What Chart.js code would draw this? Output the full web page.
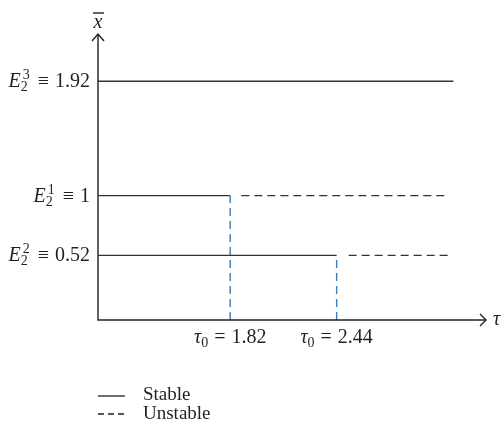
<!DOCTYPE html>
<html><head><meta charset="utf-8">
<script src="https://cdn.jsdelivr.net/npm/chart.js@4"></script>
<style>html,body{margin:0;padding:0;background:#fff}#wrap{width:503px;height:428px;position:relative}</style>
</head><body><div id="wrap"><canvas id="c"></canvas></div>
<script>
// Equilibrium values (y) and their labels E_2^k
const eqValues = [1.92, 1.00, 0.52];
const eqSuper = ['3', '1', '2'];
const eqSub = ['2', '2', '2'];
const eqLabels = ['1.92', '1', '0.52'];
// Critical delays (x)
const tauValues = [1.82, 2.44];
const tauLabels = ['1.82', '2.44'];
// Branch extents along tau
const stableFrom = [1.05, 1.05, 1.05];
const stableTo = [3.12, 1.82, 2.44];
const unstableFrom = [null, 1.885, 2.51];
const unstableTo = [null, 3.08, 3.10];
const xRange = [1.05, 3.31];
const yRange = [0, 2.3];
const legendItems = ['Stable', 'Unstable'];

const FONT = '"Liberation Serif", "DejaVu Serif", serif';
const INK = '#231f20';
const LINE = '#333333';
const BLUE = '#3a7cc0';

const datasets = [];
eqValues.forEach((v, i) => {
  datasets.push({label: 'stable' + i, data: [{x: stableFrom[i], y: v}, {x: stableTo[i], y: v}],
    borderColor: LINE, borderWidth: 1.4, pointRadius: 0, showLine: true});
  if (unstableFrom[i] !== null) {
    datasets.push({label: 'unstable' + i, data: [{x: unstableFrom[i], y: v}, {x: unstableTo[i], y: v}],
      borderColor: LINE, borderWidth: 1.4, borderDash: [8, 5], pointRadius: 0, showLine: true});
  }
});
tauValues.forEach((t, j) => {
  const yTop = eqValues[j + 1];
  datasets.push({label: 'tau' + j, data: [{x: t, y: yRange[0]}, {x: t, y: yTop}],
    borderColor: BLUE, borderWidth: 1.4, borderDash: [8, 5], pointRadius: 0, showLine: true});
});

const axesPlugin = {
  id: 'axesPlugin',
  afterDraw(chart) {
    const ctx = chart.ctx;
    const xs = chart.scales.x, ys = chart.scales.y;
    const a = chart.chartArea;
    ctx.save();
    ctx.strokeStyle = INK; ctx.fillStyle = INK; ctx.lineWidth = 1.4;
    // axes
    ctx.beginPath();
    ctx.moveTo(a.left, a.top); ctx.lineTo(a.left, a.bottom); ctx.lineTo(a.right, a.bottom);
    ctx.stroke();
    // arrow heads
    ctx.beginPath();
    ctx.moveTo(a.left - 6, a.top + 7); ctx.lineTo(a.left, a.top); ctx.lineTo(a.left + 6, a.top + 7);
    ctx.moveTo(a.right - 6, a.bottom - 6); ctx.lineTo(a.right, a.bottom); ctx.lineTo(a.right - 6, a.bottom + 6);
    ctx.stroke();
    // axis titles
    ctx.textBaseline = 'alphabetic';
    ctx.font = 'italic 20px ' + FONT;
    ctx.textAlign = 'center';
    ctx.fillText('x', a.left, a.top - 6);
    ctx.beginPath(); ctx.lineWidth = 1.4;
    ctx.moveTo(a.left - 5, a.top - 21); ctx.lineTo(a.left + 6, a.top - 21); ctx.stroke();
    ctx.textAlign = 'left';
    ctx.fillText('\u03C4', a.right + 7, a.bottom + 5);

    // y labels
    eqValues.forEach((v, i) => {
      const py = ys.getPixelForValue(v);
      const base = py + 6;
      const right = a.left - 8;
      ctx.font = '20px ' + FONT;
      const wEq = ctx.measureText('\u2261').width;
      const wNum = ctx.measureText(eqLabels[i]).width;
      ctx.font = '14px ' + FONT;
      const wScr = Math.max(ctx.measureText(eqSuper[i]).width, ctx.measureText(eqSub[i]).width);
      ctx.font = 'italic 20px ' + FONT;
      const wE = ctx.measureText('E').width;
      const total = wE + 1 + wScr + 9 + wEq + 6 + wNum;
      let x = right - total;
      ctx.textAlign = 'left';
      ctx.fillText('E', x, base);
      x += wE + 1;
      ctx.font = '14px ' + FONT;
      ctx.fillText(eqSuper[i], x + 1, base - 8);
      ctx.fillText(eqSub[i], x - 1, base + 4);
      x += wScr + 9;
      ctx.font = '20px ' + FONT;
      ctx.fillText('\u2261', x, base);
      x += wEq + 6;
      ctx.fillText(eqLabels[i], x, base);
    });

    // x labels
    tauValues.forEach((t, j) => {
      const px = xs.getPixelForValue(t);
      const base = a.bottom + 23;
      ctx.font = 'italic 20px ' + FONT;
      const wT = ctx.measureText('\u03C4').width;
      ctx.font = '14px ' + FONT;
      const wS = ctx.measureText('0').width;
      ctx.font = '20px ' + FONT;
      const wEq = ctx.measureText('=').width;
      const wN = ctx.measureText(tauLabels[j]).width;
      const total = wT + wS + 6 + wEq + 6 + wN;
      let x = px - total / 2;
      ctx.textAlign = 'left';
      ctx.font = 'italic 20px ' + FONT;
      ctx.fillText('\u03C4', x, base);
      x += wT;
      ctx.font = '14px ' + FONT;
      ctx.fillText('0', x, base + 4);
      x += wS + 6;
      ctx.font = '20px ' + FONT;
      ctx.fillText('=', x, base);
      x += wEq + 6;
      ctx.fillText(tauLabels[j], x, base);
    });

    // legend
    ctx.font = '19px ' + FONT;
    ctx.strokeStyle = INK; ctx.lineWidth = 1.3;
    ctx.beginPath(); ctx.setLineDash([]);
    ctx.moveTo(a.left, a.bottom + 76); ctx.lineTo(a.left + 27, a.bottom + 76); ctx.stroke();
    ctx.fillText(legendItems[0], a.left + 45, a.bottom + 80);
    ctx.beginPath(); ctx.setLineDash([6, 4]);
    ctx.moveTo(a.left, a.bottom + 94); ctx.lineTo(a.left + 28, a.bottom + 94); ctx.stroke();
    ctx.setLineDash([]);
    ctx.fillText(legendItems[1], a.left + 45, a.bottom + 99);
    ctx.restore();
  }
};

new Chart(document.getElementById('c'), {
  type: 'scatter',
  data: {datasets},
  options: {
    responsive: true, maintainAspectRatio: false, animation: false,
    layout: {padding: {left: 98, right: 17, top: 34, bottom: 108}},
    plugins: {legend: {display: false}, tooltip: {enabled: false}},
    scales: {
      x: {type: 'linear', min: xRange[0], max: xRange[1], display: false},
      y: {type: 'linear', min: yRange[0], max: yRange[1], display: false}
    }
  },
  plugins: [axesPlugin]
});
</script></body></html>
